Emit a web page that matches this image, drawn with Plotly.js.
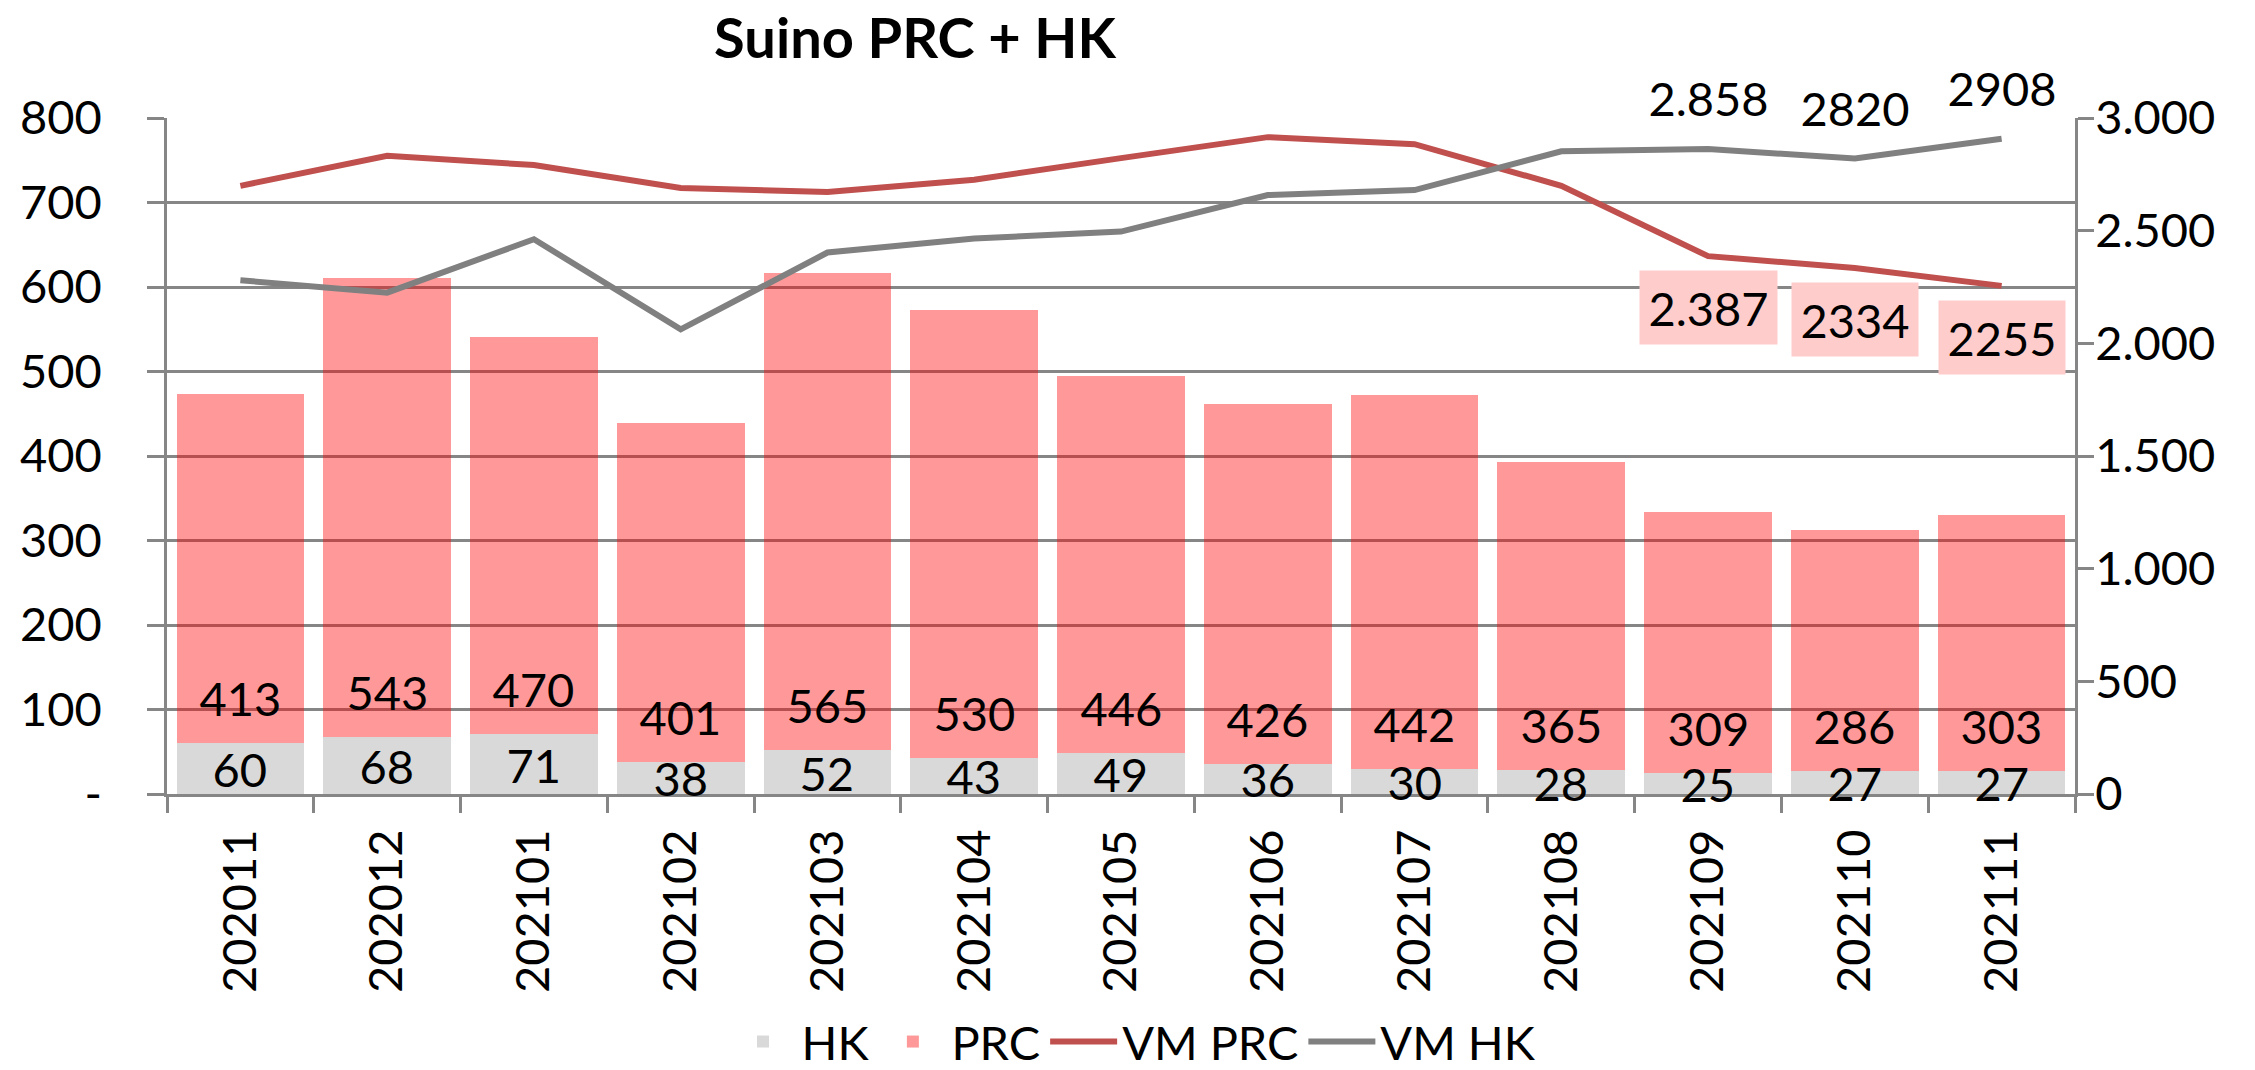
<!DOCTYPE html>
<html>
<head>
<meta charset="utf-8">
<script src="https://cdn.plot.ly/plotly-3.0.1.min.js"></script>
<style>
  html, body { margin: 0; padding: 0; background: #ffffff; }
  #chart { width: 2255px; height: 1070px; }
</style>
</head>
<body>
<div id="chart"></div>
<script>
// ---- data ----
const categories = ['202011','202012','202101','202102','202103','202104','202105','202106','202107','202108','202109','202110','202111'];
const hk  = [60, 68, 71, 38, 52, 43, 49, 36, 30, 28, 25, 27, 27];
const prc = [413, 543, 470, 401, 565, 530, 446, 426, 442, 365, 309, 286, 303];
const vmPrc = [2699, 2832, 2791, 2689, 2672, 2726, 2822, 2915, 2884, 2699, 2387, 2334, 2255];
const vmHk  = [2280, 2225, 2462, 2062, 2403, 2465, 2496, 2658, 2680, 2852, 2862, 2820, 2908];
const vmPrcLabels = ['', '', '', '', '', '', '', '', '', '', '2.387', '2334', '2255'];
const vmHkLabels  = ['', '', '', '', '', '', '', '', '', '', '2.858', '2820', '2908'];
const leftTickVals = [0, 100, 200, 300, 400, 500, 600, 700, 800];
const leftTickText = ['-', '100', '200', '300', '400', '500', '600', '700', '800'];
const rightTickVals = [0, 500, 1000, 1500, 2000, 2500, 3000];
const rightTickText = ['0', '500', '1.000', '1.500', '2.000', '2.500', '3.000'];

const FONT = 'Lato, "Open Sans", "Noto Sans", sans-serif';
const FS = 47;
const GRID = '#868686';

const traces = [
  { type: 'bar', name: 'HK', x: categories, y: hk, marker: { color: 'rgba(0,0,0,0.15)' } },
  { type: 'bar', name: 'PRC', x: categories, y: prc, marker: { color: 'rgba(255,0,0,0.4)' } },
  { type: 'scatter', mode: 'lines', name: 'VM PRC', x: categories, y: vmPrc, yaxis: 'y2',
    line: { color: '#C0504D', width: 6 } },
  { type: 'scatter', mode: 'lines', name: 'VM HK', x: categories, y: vmHk, yaxis: 'y2',
    line: { color: '#808080', width: 6 } }
];

// data labels (x given as category index so the category axis places them)
const annotations = [];
const txtFont = { family: FONT, size: FS, color: '#000000' };
for (let i = 0; i < categories.length; i++) {
  annotations.push({ x: i, y: hk[i] / 2, xref: 'x', yref: 'y', text: String(hk[i]),
    showarrow: false, font: txtFont, yanchor: 'middle', xanchor: 'center', borderpad: 8.5 });
  annotations.push({ x: i, y: hk[i], xref: 'x', yref: 'y', text: String(prc[i]),
    showarrow: false, font: txtFont, yanchor: 'bottom', xanchor: 'center', borderpad: 8.5, yshift: 8 });
  if (vmPrcLabels[i]) {
    annotations.push({ x: i, y: vmPrc[i], xref: 'x', yref: 'y2', text: vmPrcLabels[i],
      showarrow: false, font: txtFont, yanchor: 'top', xanchor: 'center', borderpad: 8.5, yshift: -14,
      bgcolor: '#FFCCCC' });
  }
  if (vmHkLabels[i]) {
    annotations.push({ x: i, y: vmHk[i], xref: 'x', yref: 'y2', text: vmHkLabels[i],
      showarrow: false, font: txtFont, yanchor: 'bottom', xanchor: 'center', borderpad: 8.5, yshift: 14 });
  }
}

const layout = {
  width: 2255, height: 1070,
  paper_bgcolor: '#ffffff', plot_bgcolor: '#ffffff',
  font: { family: FONT, size: FS, color: '#000000' },
  margin: { l: 167, r: 180, t: 118, b: 276, pad: 0 },
  title: { text: 'Suino PRC + HK', font: { family: FONT, size: 56, weight: 700, color: '#000000' },
    xref: 'container', yref: 'container', x: 915 / 2255, xanchor: 'center', y: 1 - 38 / 1070, yanchor: 'middle' },
  barmode: 'stack', bargap: 0.13,
  showlegend: true,
  legend: { orientation: 'h', xref: 'container', x: 1133 / 2255, xanchor: 'center', yref: 'container', y: 1 - 1042 / 1070,
    yanchor: 'middle', traceorder: 'normal', itemwidth: 67, font: { family: FONT, size: FS, color: '#000000' } },
  xaxis: { type: 'category', range: [-0.5, 12.5], showgrid: false, zeroline: false, showline: true, linecolor: GRID, linewidth: 2.5,
    ticks: 'outside', tickson: 'boundaries', ticklen: 16, tickwidth: 2.5, tickcolor: GRID,
    tickangle: -90, tickfont: { family: FONT, size: FS, color: '#000000' }, ticklabelstandoff: 14 },
  yaxis: { range: [0, 800], tickmode: 'array', tickvals: leftTickVals, ticktext: leftTickText,
    showgrid: true, gridcolor: GRID, gridwidth: 2.5, zeroline: false, showline: true, linecolor: GRID, linewidth: 2.5,
    ticks: 'outside', ticklen: 17, tickwidth: 2.5, tickcolor: GRID, ticklabelstandoff: 36,
    tickfont: { family: FONT, size: FS, color: '#000000' } },
  yaxis2: { range: [0, 3000], overlaying: 'y', side: 'right', tickmode: 'array', tickvals: rightTickVals, ticktext: rightTickText,
    showgrid: false, zeroline: false, showline: true, linecolor: GRID, linewidth: 2.5,
    ticks: 'outside', ticklen: 16, tickwidth: 2.5, tickcolor: GRID, ticklabelstandoff: -8,
    tickfont: { family: FONT, size: FS, color: '#000000' } },
  annotations: annotations
};

Plotly.newPlot('chart', traces, layout, { displayModeBar: false });
</script>
</body>
</html>
